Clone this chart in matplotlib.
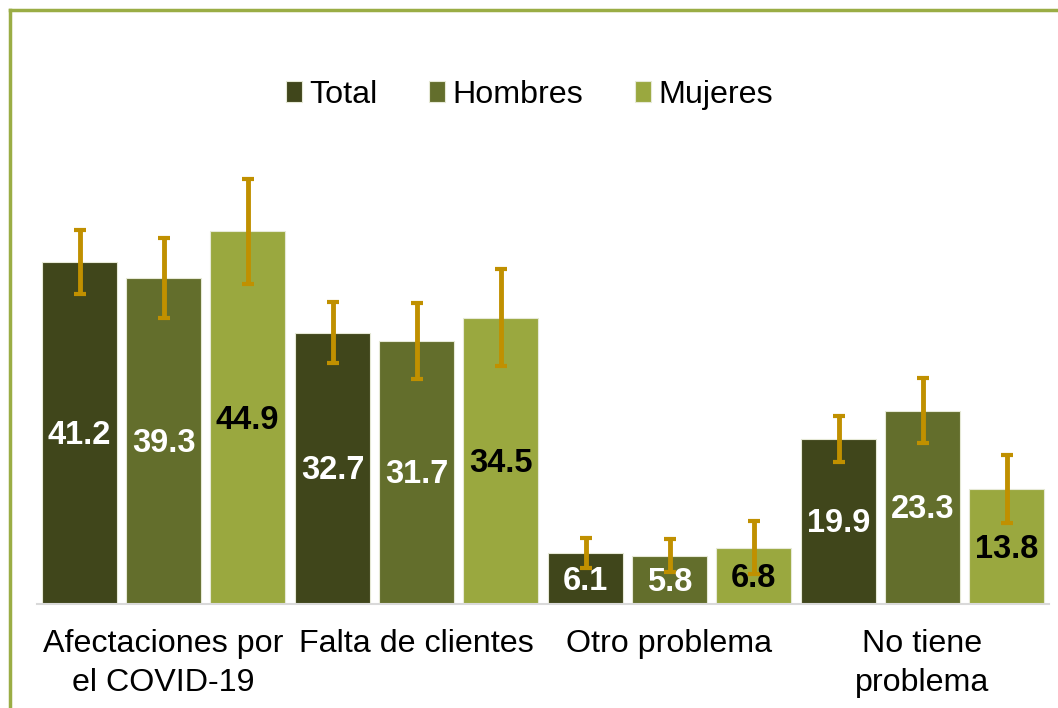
import matplotlib
matplotlib.use("Agg")
import matplotlib.pyplot as plt
from matplotlib.lines import Line2D
import numpy as np

plt.rcParams['font.family'] = ['Liberation Sans', 'DejaVu Sans']

categories = ["Afectaciones por\nel COVID-19", "Falta de clientes", "Otro problema", "No tiene\nproblema"]
series = ["Total", "Hombres", "Mujeres"]
total = [41.2, 32.7, 6.1, 19.9]
hombres = [39.3, 31.7, 5.8, 23.3]
mujeres = [44.9, 34.5, 6.8, 13.8]
# half-width of the confidence intervals
err_total = [3.8, 3.7, 1.8, 2.8]
err_hombres = [4.8, 4.6, 2.0, 3.9]
err_mujeres = [6.3, 5.8, 3.2, 4.1]

colors = ["#40461b", "#636e2c", "#9aa83f"]
label_colors = ["white", "white", "black"]
err_color = "#c09000"

fig = plt.figure(figsize=(10.58, 7.08), dpi=100)
ax = fig.add_axes([0.035, 0.1469, 0.9565, 0.7034])

x = np.arange(len(categories))
width = 0.30
offsets = [-0.332, 0, 0.332]
values = [total, hombres, mujeres]
errs = [err_total, err_hombres, err_mujeres]

for i in range(3):
    pos = x + offsets[i]
    ax.bar(pos, values[i], width, color=colors[i], edgecolor="#e6e9d6",
           linewidth=0.8, label=series[i], zorder=2)
    ax.errorbar(pos, values[i], yerr=errs[i], fmt="none", ecolor=err_color,
                elinewidth=3.5, capsize=4.3, capthick=3, zorder=3, clip_on=False)
    for p, v in zip(pos, values[i]):
        ax.text(p, v / 2 - 0.3, "%.1f" % v, ha="center", va="center", color=label_colors[i],
                fontsize=23.5, fontweight="bold", zorder=4)

ax.set_xlim(-0.5, 3.5)
ax.set_ylim(0, 60)
ax.set_yticks([])
ax.set_xticks(x)
ax.set_xticklabels(categories, fontsize=23.2, linespacing=1.38)
ax.tick_params(axis="x", length=0, pad=18)
for s in ["top", "right", "left"]:
    ax.spines[s].set_visible(False)
ax.spines["bottom"].set_color("#d9d9d9")
ax.spines["bottom"].set_linewidth(1.5)

leg = fig.legend(loc="center", bbox_to_anchor=(0.5005, 0.866), ncol=3, frameon=False,
                 fontsize=23.2, handlelength=0.5, handleheight=0.65,
                 handletextpad=0.22, columnspacing=1.6)

# outer green frame (left and top edges visible)
fx = 9.5 / 1058
fy = 1 - 9.5 / 708
fig.add_artist(Line2D([fx, fx], [0, fy], transform=fig.transFigure, color="#9aad45", linewidth=2.5))
fig.add_artist(Line2D([fx, 1], [fy, fy], transform=fig.transFigure, color="#9aad45", linewidth=2.5))

fig.savefig("out.png", dpi=100)
